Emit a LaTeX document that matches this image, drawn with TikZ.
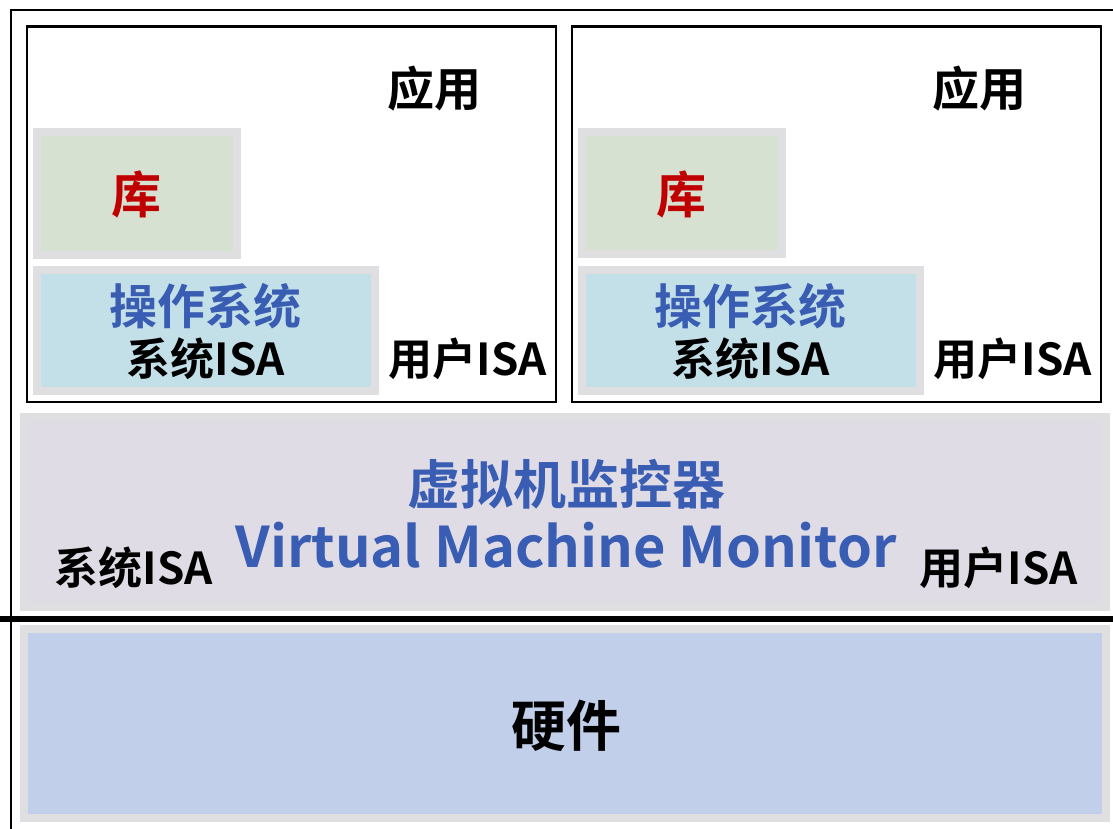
\documentclass[tikz,border=0pt]{standalone}
\usepackage{fontspec}
\newfontfamily\cjk{Noto Sans CJK SC Bold}
\definecolor{bandgray}{HTML}{DFDFE2}
\definecolor{libgreen}{HTML}{D7E1D1}
\definecolor{osblue}{HTML}{C3E0E9}
\definecolor{vmmfill}{HTML}{E0DCE5}
\definecolor{hwfill}{HTML}{C1CFEA}
\definecolor{txtblue}{HTML}{3A5DB4}
\definecolor{txtred}{HTML}{C00000}
\tikzset{
  layer/.style={draw=bandgray, line width=8pt, inner sep=0pt, outer sep=0pt},
  vmbox/.style={draw=black, line width=2.8pt},
  lbl/.style={font=\cjk\fontsize{#1}{#1}\selectfont, inner sep=0pt, text=black},
}
\begin{document}
\begin{tikzpicture}[x=1pt,y=-1pt]
\useasboundingbox (0,0) rectangle (1113,829);
% outer frame, open to the right and bottom
\coordinate (fr-tr) at (1113,9.8);
\coordinate (fr-tl) at (11,9.8);
\coordinate (fr-bl) at (11,829);
\draw[line width=2.4pt] (fr-tr) -- (fr-tl) -- (fr-bl);

% guest virtual machines
\draw[vmbox] (27,26.5) rectangle (556,402);
\draw[vmbox] (572,26.5) rectangle (1101,402);

% libraries and operating systems
\node[layer, fill=libgreen, minimum width=200pt, minimum height=122pt] (libL) at (137,193.5) {};
\node[layer, fill=osblue, minimum width=338pt, minimum height=121pt] (osL) at (206,330.5) {};
\node[layer, fill=libgreen, minimum width=200pt, minimum height=122pt] (libR) at (682,193) {};
\node[layer, fill=osblue, minimum width=338pt, minimum height=121pt] (osR) at (751,330) {};

% monitor and hardware layers
\node[layer, fill=vmmfill, minimum width=1081.5pt, minimum height=189.5pt] (vmm) at (565.2,512.2) {};
\node[layer, fill=hwfill, minimum width=1082pt, minimum height=189pt] (hw) at (565,723.5) {};

% boundary between monitor and hardware
\coordinate (sep-l) at (0,619);
\coordinate (sep-r) at (1113,619);
\draw[line width=6pt] (sep-l) -- (sep-r);

% labels
\node[lbl=47] (appL) at (434,89) {应用};
\node[lbl=47] (appR) at (979,89) {应用};
\node[lbl=50, text=txtred] (libLt) at (136,194) {库};
\node[lbl=50, text=txtred] (libRt) at (681,194) {库};
\node[lbl=48, text=txtblue] (osLt) at (205,306) {操作系统};
\node[lbl=48, text=txtblue] (osRt) at (750,306) {操作系统};
\node[lbl=44] (sisaL) at (206,359) {系统ISA};
\node[lbl=44] (sisaR) at (751,359) {系统ISA};
\node[lbl=44] (uisaL) at (468,359) {用户ISA};
\node[lbl=44] (uisaR) at (1013,359) {用户ISA};
\node[lbl=53, text=txtblue] (vmmzh) at (566,484) {虚拟机监控器};
\node[lbl=56, text=txtblue] (vmmen) at (566,545) {Virtual Machine Monitor};
\node[lbl=44] (sisaB) at (134,568) {系统ISA};
\node[lbl=44] (uisaB) at (999,568) {用户ISA};
\node[lbl=55] (hwt) at (566,726) {硬件};
\end{tikzpicture}
\end{document}
